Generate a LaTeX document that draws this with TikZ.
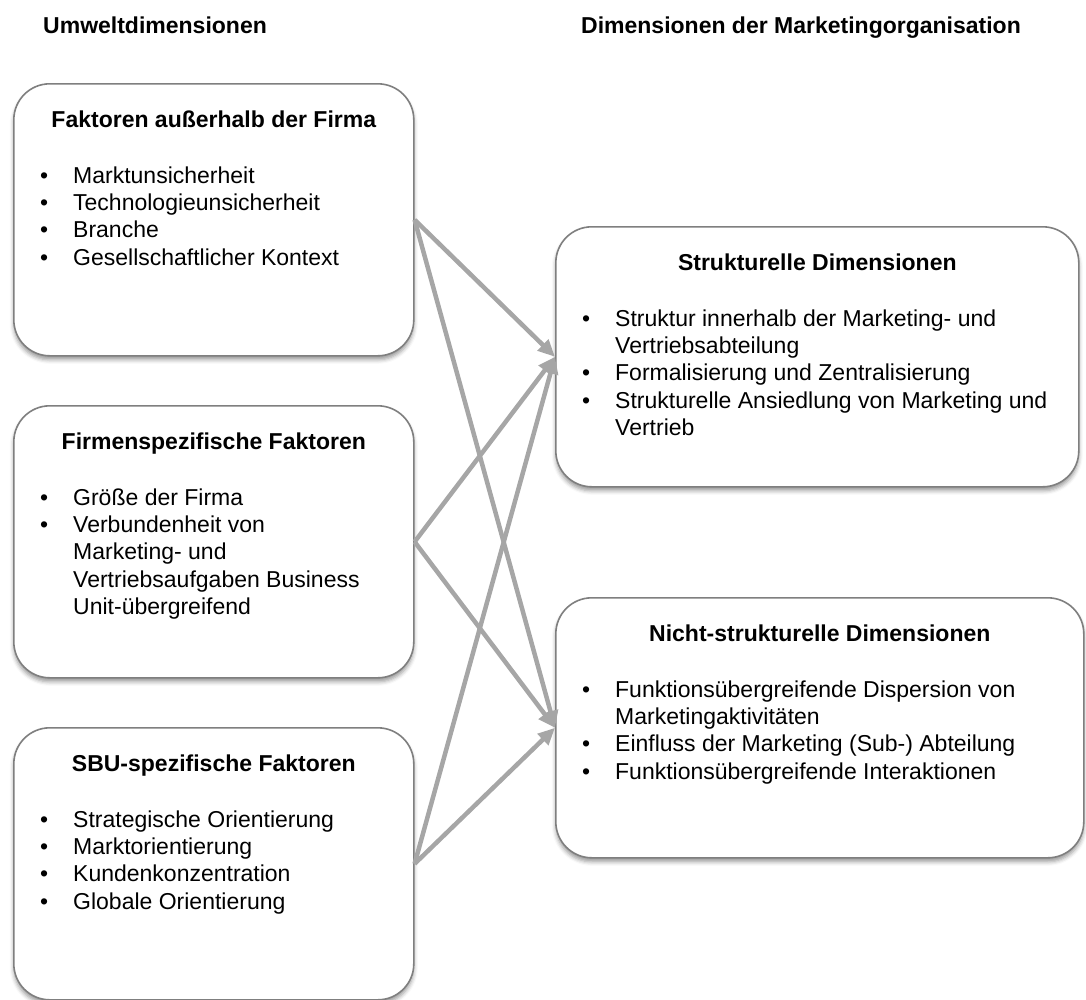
\documentclass[tikz,border=0pt]{standalone}
\usepackage{fontspec}
\setmainfont{Liberation Sans}
\usetikzlibrary{arrows.meta,shadows.blur}

\definecolor{boxgray}{HTML}{7F7F7F}
\definecolor{arrowgray}{HTML}{A6A6A6}

% one bullet item with hanging indent
\newcommand\bulitem[1]{\hangindent=33pt\hangafter=1\noindent\makebox[33pt][l]{•}#1\par}
\newcommand\bullist[2]{\parbox[t]{#1}{\fontsize{23}{27.4}\selectfont\parskip=0pt #2}}

\tikzset{
  card/.style={draw=boxgray, line width=1.6pt, rounded corners=36pt, fill=white,
    anchor=north west, inner sep=0pt,
    blur shadow={shadow xshift=0pt, shadow yshift=-4pt, shadow blur radius=4pt, shadow opacity=40}},
  cardhead/.style={anchor=base, inner sep=0pt, font=\fontsize{23}{27.4}\selectfont\bfseries},
  cardlist/.style={anchor=base west, inner sep=0pt},
  colhead/.style={anchor=base west, inner sep=0pt, font=\fontsize{23}{27.4}\selectfont\bfseries},
  conn/.style={draw=arrowgray, line width=4.5pt, -{Triangle[length=17pt,width=15pt]}},
}

\begin{document}
\begin{tikzpicture}[x=1pt,y=-1pt]
\useasboundingbox (0,0) rectangle (1086,999);

% column headings
\node[colhead] (hleft) at (43,33) {Umweltdimensionen};
\node[colhead] (hright) at (581,33) {Dimensionen der Marketingorganisation};

% left column: environmental factors
\node[card, minimum width=400pt, minimum height=272pt] (l1) at (13,83) {};
\node[cardhead] (l1h) at ([yshift=-44pt]l1.north) {Faktoren außerhalb der Firma};
\node[cardlist] (l1t) at ([xshift=27pt,yshift=-100pt]l1.north west) {\bullist{360pt}{%
  \bulitem{Marktunsicherheit}
  \bulitem{Technologieunsicherheit}
  \bulitem{Branche}
  \bulitem{Gesellschaftlicher Kontext}}};

\node[card, minimum width=400pt, minimum height=272pt] (l2) at (13,405) {};
\node[cardhead] (l2h) at ([yshift=-44pt]l2.north) {Firmenspezifische Faktoren};
\node[cardlist] (l2t) at ([xshift=27pt,yshift=-100pt]l2.north west) {\bullist{360pt}{%
  \bulitem{Größe der Firma}
  \bulitem{Verbundenheit von\newline Marketing- und\newline Vertriebsaufgaben Business\newline Unit-übergreifend}}};

\node[card, minimum width=400pt, minimum height=272pt] (l3) at (13,727) {};
\node[cardhead] (l3h) at ([yshift=-44pt]l3.north) {SBU-spezifische Faktoren};
\node[cardlist] (l3t) at ([xshift=27pt,yshift=-100pt]l3.north west) {\bullist{360pt}{%
  \bulitem{Strategische Orientierung}
  \bulitem{Marktorientierung}
  \bulitem{Kundenkonzentration}
  \bulitem{Globale Orientierung}}};

% right column: dimensions of the marketing organisation
\node[card, minimum width=523pt, minimum height=260pt] (r1) at (555,226) {};
\node[cardhead] (r1h) at ([yshift=-44pt]r1.north) {Strukturelle Dimensionen};
\node[cardlist] (r1t) at ([xshift=27pt,yshift=-100pt]r1.north west) {\bullist{480pt}{%
  \bulitem{Struktur innerhalb der Marketing- und\newline Vertriebsabteilung}
  \bulitem{Formalisierung und Zentralisierung}
  \bulitem{Strukturelle Ansiedlung von Marketing und\newline Vertrieb}}};

\node[card, minimum width=528pt, minimum height=260pt] (r2) at (555,597) {};
\node[cardhead] (r2h) at ([yshift=-44pt]r2.north) {Nicht-strukturelle Dimensionen};
\node[cardlist] (r2t) at ([xshift=27pt,yshift=-100pt]r2.north west) {\bullist{480pt}{%
  \bulitem{Funktionsübergreifende Dispersion von\newline Marketingaktivitäten}
  \bulitem{Einfluss der Marketing (Sub-) Abteilung}
  \bulitem{Funktionsübergreifende Interaktionen}}};

% influences
\foreach \s in {l1,l2,l3}{
  \draw[conn] (\s.east) -- (r1.west);
  \draw[conn] (\s.east) -- (r2.west);
}
\end{tikzpicture}
\end{document}
